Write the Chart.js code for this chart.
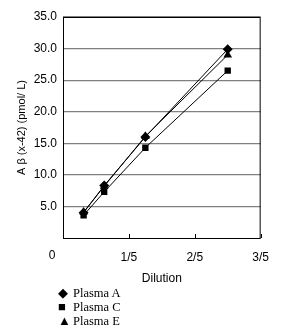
<!DOCTYPE html>
<html lang="en">
<head>
<meta charset="UTF-8" />
<title>Dilution linearity</title>
<script src="https://cdn.jsdelivr.net/npm/chart.js"></script>
<style>
  body { margin: 0; background: #fff; width: 281px; height: 336px; overflow: hidden; }
  #wrap { position: absolute; left: 0; top: 0; width: 281px; height: 286px; }
  #legend { position: absolute; left: 58px; top: 286px; font-family: "Liberation Serif", "Times New Roman", serif; font-size: 12.5px; line-height: 14px; color: #000; }
  #legend span.m { display: inline-block; width: 15px; font-size: 13px; }
</style>
</head>
<body>
<div id="wrap"><canvas id="c"></canvas></div>
<div id="legend">
  <div><span class="m">◆</span>Plasma A</div>
  <div><span class="m">■</span>Plasma C</div>
  <div><span class="m">▲</span>Plasma E</div>
</div>
<script>
const dilutions = [1/16, 1/8, 1/4, 1/2];
const plasmaA = [4.0, 8.3, 16.0, 29.9];
const plasmaC = [3.6, 7.3, 14.3, 26.5];
const plasmaE = [4.1, 8.2, 16.1, 29.0];
const xTicks = [0, 0.2, 0.4, 0.6];
const xTickLabels = ["0", "1/5", "2/5", "3/5"];

function pts(ys) {
  return dilutions.map((x, i) => ({ x: x, y: ys[i] }));
}

const frame = {
  id: "frame",
  afterDraw(chart) {
    const { ctx, chartArea: a, scales } = chart;
    ctx.save();
    ctx.strokeStyle = "#000";
    ctx.lineWidth = 1;
    ctx.strokeRect(a.left + 0.5, a.top + 0.5, a.right - a.left - 1, a.bottom - a.top);
    // inside tick marks on x axis
    ctx.beginPath();
    xTicks.forEach(v => {
      const px = Math.round(scales.x.getPixelForValue(v)) + 0.5;
      ctx.moveTo(px, a.bottom);
      ctx.lineTo(px, a.bottom - 4);
    });
    ctx.stroke();
    // "0" label sits left of the axis in the original
    ctx.fillStyle = "#000";
    ctx.font = "12px 'Liberation Sans', Arial, sans-serif";
    ctx.textAlign = "center";
    ctx.textBaseline = "middle";
    ctx.fillText(xTickLabels[0], scales.x.getPixelForValue(0) - 11, a.bottom + 18);
    ctx.restore();
  }
};

const ds = (label, data, style, r) => ({
  label: label,
  data: pts(data),
  borderColor: "#000",
  backgroundColor: "#000",
  borderWidth: 1,
  pointStyle: style,
  pointRadius: r,
  pointBorderWidth: 0,
  showLine: true,
  tension: 0
});

new Chart(document.getElementById("c"), {
  type: "scatter",
  data: {
    datasets: [
      ds("Plasma A", plasmaA, "rectRot", 5),
      ds("Plasma C", plasmaC, "rect", 4.5),
      ds("Plasma E", plasmaE, "triangle", 5)
    ]
  },
  plugins: [frame],
  options: {
    responsive: true,
    maintainAspectRatio: false,
    animation: false,
    layout: { padding: { top: 17, right: 11, left: 15, bottom: 0 } },
    plugins: { legend: { display: false }, tooltip: { enabled: false } },
    scales: {
      x: {
        type: "linear",
        min: 0, max: 0.6,
        afterBuildTicks(s) { s.ticks = xTicks.map(v => ({ value: v })); },
        afterFit(s) { s.height = 48; },
        grid: { display: false, drawTicks: false },
        border: { display: false },
        ticks: {
          color: "#000",
          padding: 12,
          font: { family: "'Liberation Sans', Arial, sans-serif", size: 12 },
          callback: (v) => { const i = xTicks.findIndex(t => Math.abs(t - v) < 1e-9); return i > 0 ? xTickLabels[i] : ""; }
        },
        title: {
          display: true,
          text: "Dilution",
          color: "#000",
          padding: { top: 1, bottom: 0 },
          font: { family: "'Liberation Sans', Arial, sans-serif", size: 12 }
        }
      },
      y: {
        min: 0, max: 35,
        afterFit(s) { s.width = 48; },
        ticks: {
          stepSize: 5,
          color: "#000",
          padding: 6,
          font: { family: "'Liberation Sans', Arial, sans-serif", size: 12 },
          callback: (v) => v === 0 ? "" : v.toFixed(1)
        },
        grid: { color: (c) => c.tick.value === 0 ? "rgba(0,0,0,0)" : "#808080", lineWidth: 1.2, drawTicks: false },
        border: { display: false },
        title: {
          display: true,
          text: "A β (x-42) (pmol/ L)",
          color: "#000",
          padding: { top: 0, bottom: 4 },
          font: { family: "'Liberation Sans', Arial, sans-serif", size: 11 }
        }
      }
    }
  }
});
</script>
</body>
</html>
